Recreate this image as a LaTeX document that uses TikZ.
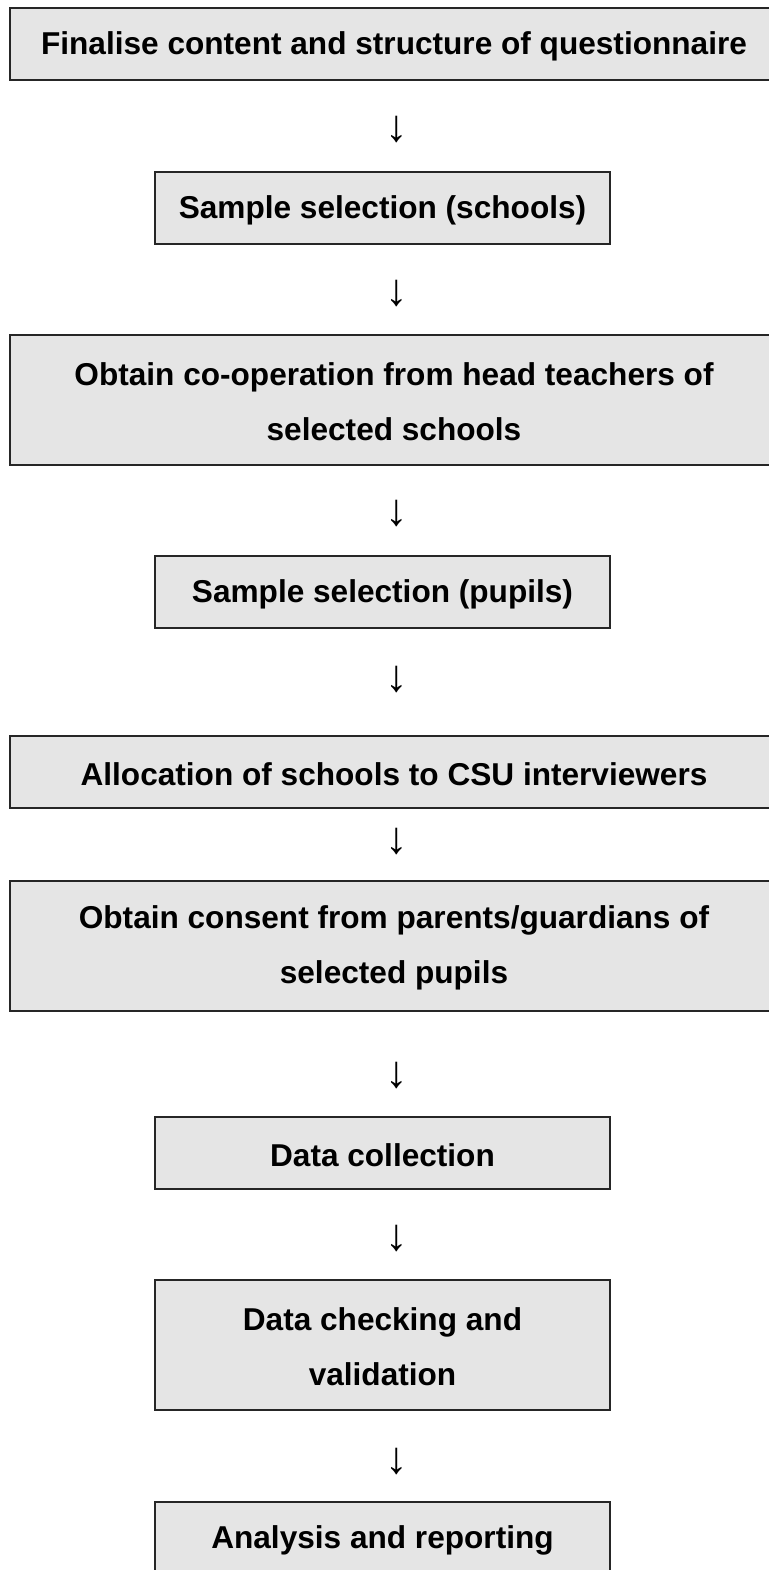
\documentclass[tikz,border=0pt]{standalone}
\usepackage{fontspec}
\setmainfont{Liberation Sans}
\begin{document}
\begin{tikzpicture}[x=1pt,y=-1pt,
  box/.style={draw=black!85, line width=1.1pt, fill=black!10, inner sep=0pt},
  txt/.style={inner sep=0pt, align=center, font=\fontsize{31.6}{55}\selectfont\bfseries},
  wide/.style={box, minimum width=768pt, minimum height=72pt},
  widetall/.style={box, minimum width=768pt, minimum height=130pt},
  narrow/.style={box, minimum width=455pt, minimum height=72pt},
  narrowtall/.style={box, minimum width=455pt, minimum height=130pt},
  arr/.style={inner sep=0pt, font=\fontsize{45}{45}\selectfont}]
\useasboundingbox (0,0) rectangle (768,1570);
\node[wide] (b1) at (394,44) {};
\node[txt] (t1) at ([yshift=-2pt]b1.center) {Finalise content and structure of questionnaire};
\node[arr] (a1) at (397,130) {↓};
\node[narrow] (b2) at (382.5,208) {};
\node[txt] (t2) at ([yshift=-2pt]b2.center) {Sample selection (schools)};
\node[arr] (a2) at (397,294) {↓};
\node[widetall] (b3) at (394,400) {};
\node[txt] (t3) at ([yshift=-2pt]b3.center) {Obtain co-operation from head teachers of\\selected schools};
\node[arr] (a3) at (397,514) {↓};
\node[narrow] (b4) at (382.5,592) {};
\node[txt] (t4) at ([yshift=-2pt]b4.center) {Sample selection (pupils)};
\node[arr] (a4) at (397,680) {↓};
\node[wide] (b5) at (394,772) {};
\node[txt] (t5) at ([yshift=-2pt]b5.center) {Allocation of schools to CSU interviewers};
\node[arr] (a5) at (397,842) {↓};
\node[widetall] (b6) at (394,946) {};
\node[txt] (t6) at ([yshift=-2pt]b6.center) {Obtain consent from parents/guardians of\\selected pupils};
\node[arr] (a6) at (397,1076) {↓};
\node[narrow] (b7) at (382.5,1153) {};
\node[txt] (t7) at ([yshift=-2pt]b7.center) {Data collection};
\node[arr] (a7) at (397,1239) {↓};
\node[narrowtall] (b8) at (382.5,1345) {};
\node[txt] (t8) at ([yshift=-2pt]b8.center) {Data checking and\\validation};
\node[arr] (a8) at (397,1462) {↓};
\node[narrow] (b9) at (382.5,1538) {};
\node[txt] (t9) at ([yshift=-2pt]b9.center) {Analysis and reporting};
\end{tikzpicture}
\end{document}
